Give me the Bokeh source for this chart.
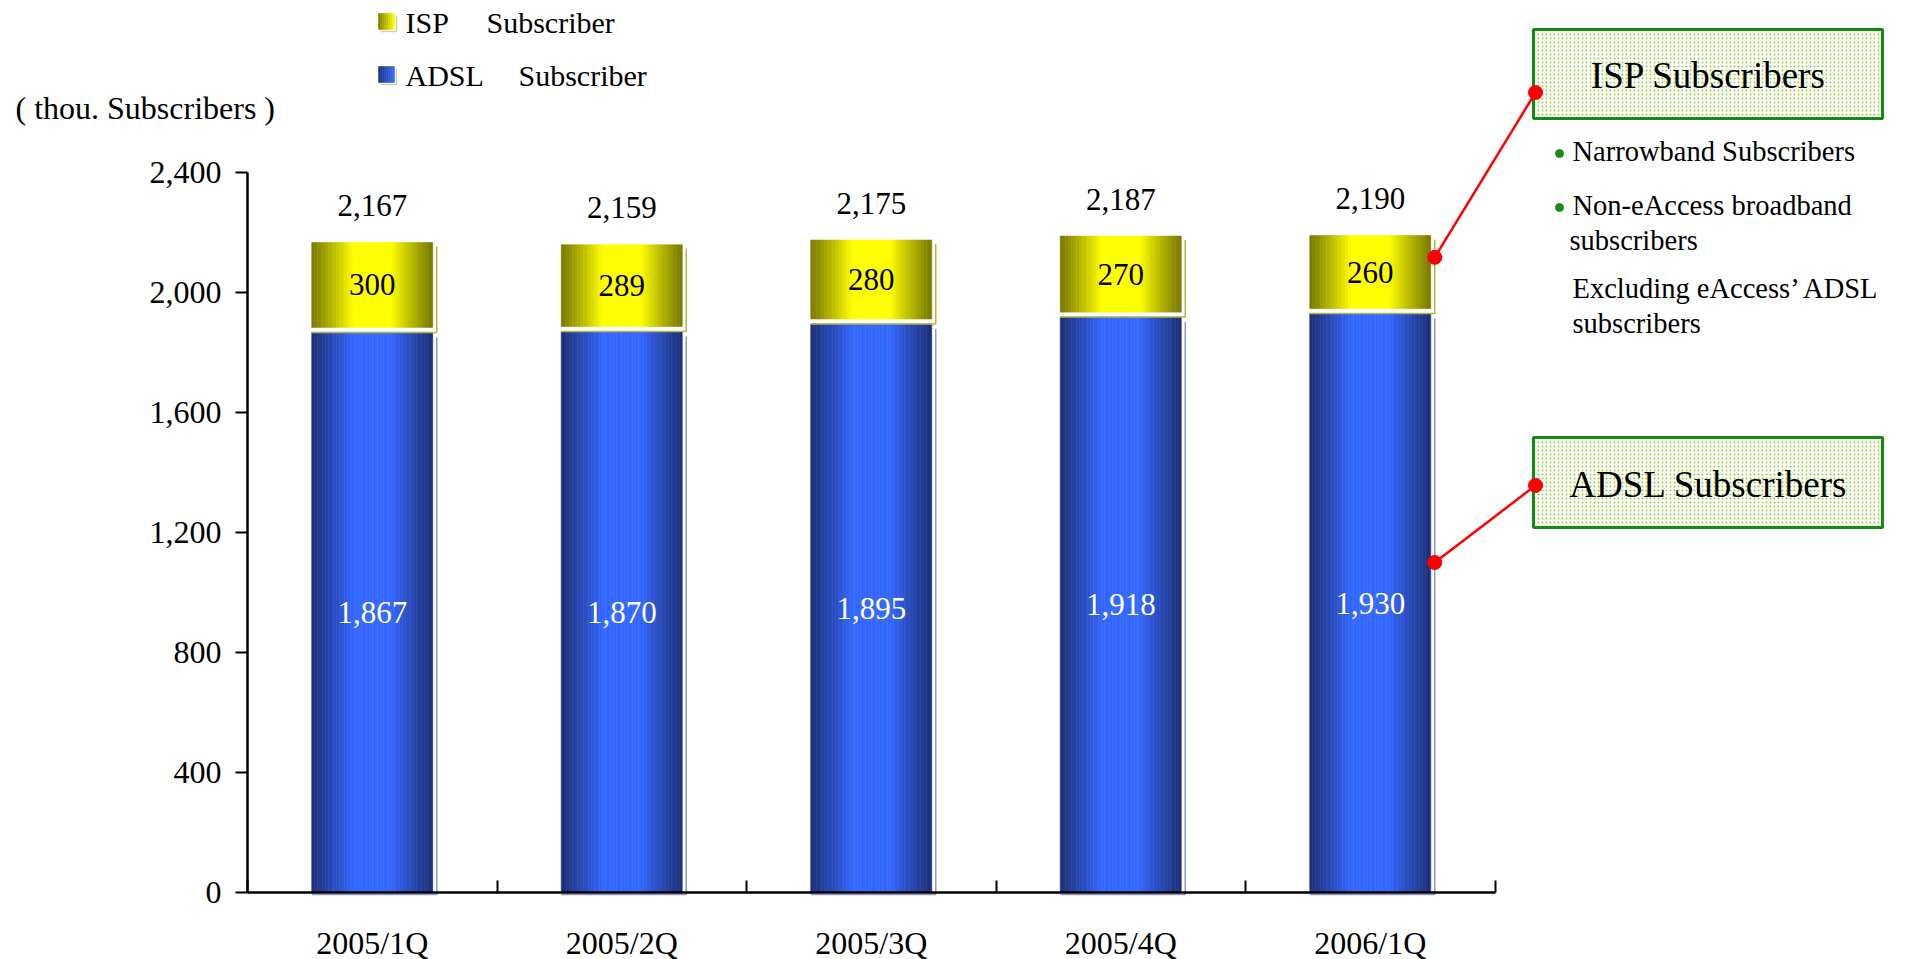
from bokeh.plotting import figure
from bokeh.models import Range1d, FixedTicker, ColumnDataSource, NumeralTickFormatter
from bokeh.core.properties import value
from bokeh.embed import file_html
from bokeh.resources import INLINE

# ---- data (thousand subscribers) ----
quarters = ["2005/1Q", "2005/2Q", "2005/3Q", "2005/4Q", "2006/1Q"]
adsl_subs = [1867, 1870, 1895, 1918, 1930]
isp_subs = [300, 289, 280, 270, 260]
total_subs = [2167, 2159, 2175, 2187, 2190]
y_ticks = [0, 400, 800, 1200, 1600, 2000, 2400]

FONT = "Liberation Serif"

# ---- canvas geometry ----
W, H = 1905, 959
AXIS_PX, BASE_PX = 247, 892         # pixel position of the value axis / of the zero line
CAT_PX = 249.5                      # pixels per quarter
Y_PX = 0.3                          # pixels per thousand subscribers
X_AXIS = 0.5                        # data x where the value axis stands


def xd(px):
    """canvas x pixel -> data x"""
    return X_AXIS + (px - AXIS_PX) / CAT_PX


def yd(py):
    """canvas y pixel -> data y"""
    return (BASE_PX - py) / Y_PX


def mix(c0, c1, f):
    return "#%02x%02x%02x" % tuple(int(round(a + (b - a) * f)) for a, b in zip(c0, c1))


def profile(u):
    # cylinder-like shading: dark edges, bright plateau in the middle
    t = 1 - abs(2 * u - 1)
    return min(1.0, t * 1.45) ** 1.1


BLUE_EDGE, BLUE_MID = (30, 48, 122), (52, 104, 255)
YEL_EDGE, YEL_MID = (122, 122, 0), (255, 255, 0)

p = figure(
    frame_width=W, frame_height=H,
    min_border_left=0, min_border_right=0, min_border_top=0, min_border_bottom=0,
    x_range=Range1d(xd(0), xd(W)), y_range=Range1d(yd(H), yd(0)),
    output_backend="svg", toolbar_location=None,
    outline_line_color=None, background_fill_color="white", border_fill_color="white",
)
p.grid.visible = False

# ---- axes (both pinned inside the canvas) ----
centers = [i + 1 for i in range(len(quarters))]
bounds = [c - 0.5 for c in centers] + [centers[-1] + 0.5]

xa = p.xaxis[0]
xa.fixed_location = 0
xa.ticker = FixedTicker(ticks=centers, minor_ticks=bounds)
xa.major_label_overrides = {c: q for c, q in zip(centers, quarters)}
xa.bounds = (bounds[0], bounds[-1])
xa.major_tick_line_color = None
xa.major_tick_in = 0
xa.major_tick_out = 0
xa.minor_tick_in = 12
xa.minor_tick_out = 0
xa.minor_tick_line_color = "black"
xa.minor_tick_line_width = 2
xa.axis_line_color = "black"
xa.axis_line_width = 2.5
xa.major_label_text_font = FONT
xa.major_label_text_font_size = "32px"
xa.major_label_text_color = "black"
xa.major_label_standoff = 32

ya = p.yaxis[0]
ya.fixed_location = X_AXIS
ya.ticker = FixedTicker(ticks=y_ticks)
ya.formatter = NumeralTickFormatter(format="0,0")
ya.bounds = (y_ticks[0], y_ticks[-1])
ya.major_tick_in = 0
ya.major_tick_out = 12
ya.major_tick_line_width = 2
ya.minor_tick_line_color = None
ya.axis_line_color = "black"
ya.axis_line_width = 2.5
ya.major_label_text_font = FONT
ya.major_label_text_font_size = "32px"
ya.major_label_text_color = "black"
ya.major_label_standoff = 14

# ---- shaded stacked bars ----
BAR_W = 0.485
STRIPS = 44
GAP = 5 / Y_PX          # white seam between the two segments
SHADOW = 4 / CAT_PX     # offset of the thin edge line

strips = dict(left=[], right=[], bottom=[], top=[], color=[])
for c, a, s in zip(centers, adsl_subs, isp_subs):
    x0 = c - BAR_W / 2
    dx = BAR_W / STRIPS
    for k in range(STRIPS):
        f = profile((k + 0.5) / STRIPS)
        # ADSL segment
        strips["left"].append(x0 + k * dx)
        strips["right"].append(x0 + (k + 1) * dx)
        strips["bottom"].append(0)
        strips["top"].append(a)
        strips["color"].append(mix(BLUE_EDGE, BLUE_MID, f))
        # ISP segment stacked above
        strips["left"].append(x0 + k * dx)
        strips["right"].append(x0 + (k + 1) * dx)
        strips["bottom"].append(a + GAP)
        strips["top"].append(a + s)
        strips["color"].append(mix(YEL_EDGE, YEL_MID, f))

p.quad(source=ColumnDataSource(strips), left="left", right="right", bottom="bottom", top="top",
       fill_color="color", line_color="color", line_width=0.6)

# thin edge lines on the right of each segment
adsl_edge_xs, adsl_edge_ys, isp_edge_xs, isp_edge_ys = [], [], [], []
for c, a, s in zip(centers, adsl_subs, isp_subs):
    xr = c + BAR_W / 2 + SHADOW
    adsl_edge_xs.append([c - BAR_W / 2, xr, xr])
    adsl_edge_ys.append([-2 / Y_PX, -2 / Y_PX, a - GAP])
    isp_edge_xs.append([c - BAR_W / 2, xr, xr])
    isp_edge_ys.append([a, a, a + s - 4 / Y_PX])
p.multi_line(adsl_edge_xs, adsl_edge_ys, line_color="#8e9ac8", line_width=1.5)
p.multi_line(isp_edge_xs, isp_edge_ys, line_color="#b8b840", line_width=1.5)

# ---- value labels ----
p.text(x=centers, y=total_subs, text=[f"{v:,}" for v in total_subs],
       text_font=value(FONT), text_font_size="31px", text_color="black",
       text_align="center", text_baseline="middle", y_offset=-37)
p.text(x=centers, y=[a + (GAP + s) / 2 for a, s in zip(adsl_subs, isp_subs)],
       text=[f"{v:,}" for v in isp_subs],
       text_font=value(FONT), text_font_size="31px", text_color="black",
       text_align="center", text_baseline="middle")
p.text(x=centers, y=[a / 2 for a in adsl_subs], text=[f"{v:,}" for v in adsl_subs],
       text_font=value(FONT), text_font_size="31px", text_color="white",
       text_align="center", text_baseline="middle")

# ---- legend ----
def swatch(px0, py0, size, edge, mid, n=8):
    d = dict(left=[], right=[], bottom=[], top=[], color=[])
    for k in range(n):
        d["left"].append(xd(px0 + k * size / n))
        d["right"].append(xd(px0 + (k + 1) * size / n))
        d["top"].append(yd(py0))
        d["bottom"].append(yd(py0 + size))
        d["color"].append(mix(edge, mid, (k + 0.5) / n))
    p.quad(source=ColumnDataSource(d), left="left", right="right", bottom="bottom", top="top",
           fill_color="color", line_color="color", line_width=0.5)
    p.line([xd(px0 + size + 2)] * 2, [yd(py0 + 2), yd(py0 + size + 2)], line_color="#cfcfa0", line_width=1.5)
    p.line([xd(px0 + 2), xd(px0 + size + 2)], [yd(py0 + size + 2)] * 2, line_color="#cfcfa0", line_width=1.5)


swatch(378, 13, 16, YEL_EDGE, YEL_MID)
swatch(378, 66, 16, BLUE_EDGE, BLUE_MID)

p.text(x=[xd(405), xd(486), xd(405), xd(518)], y=[yd(22), yd(22), yd(75), yd(75)],
       text=["ISP", "Subscriber", "ADSL", "Subscriber"],
       text_font=value(FONT), text_font_size="30px", text_color="black",
       text_align="left", text_baseline="middle")

# unit caption above the value axis
p.text(x=[xd(15)], y=[yd(107)], text=["( thou. Subscribers )"],
       text_font=value(FONT), text_font_size="32px", text_color="black",
       text_align="left", text_baseline="middle")

# ---- call-out boxes ----
box_left, box_right = xd(1533), xd(1882)
p.quad(left=[box_left, box_left], right=[box_right, box_right],
       top=[yd(29), yd(437)], bottom=[yd(118), yd(527)],
       fill_color="white", hatch_pattern="dot", hatch_color="#9ccc3a",
       hatch_scale=4, hatch_weight=1.2, line_color="#138a13", line_width=3)
p.text(x=[xd(1708), xd(1708)], y=[yd(75), yd(484)],
       text=["ISP Subscribers", "ADSL Subscribers"],
       text_font=value(FONT), text_font_size="37px", text_color="black",
       text_align="center", text_baseline="middle")

p.scatter(x=[xd(1559), xd(1559)], y=[yd(153), yd(207)], size=8,
          fill_color="#1a8a1a", line_color="#1a8a1a")
p.text(x=[xd(1572), xd(1572), xd(1569), xd(1572), xd(1572)],
       y=[yd(151), yd(205), yd(240), yd(288), yd(323)],
       text=["Narrowband Subscribers", "Non-eAccess broadband", "subscribers",
             "Excluding eAccess\u2019 ADSL", "subscribers"],
       text_font=value(FONT), text_font_size="28.5px", text_color="black",
       text_align="left", text_baseline="middle")

# red connectors from the last bar to the boxes
last = centers[-1]
anchor_x = last + BAR_W / 2 + SHADOW
isp_anchor = adsl_subs[-1] + isp_subs[-1] * 0.72
adsl_anchor = adsl_subs[-1] * 0.57
p.segment(x0=[anchor_x, anchor_x], y0=[isp_anchor, adsl_anchor],
          x1=[xd(1535), xd(1535)], y1=[yd(92), yd(485)],
          line_color="red", line_width=2.5)
p.scatter(x=[anchor_x, anchor_x, xd(1535), xd(1535)],
          y=[isp_anchor, adsl_anchor, yd(92), yd(485)],
          size=14, fill_color="red", line_color="red")

open("out.html", "w").write(file_html(p, INLINE))
